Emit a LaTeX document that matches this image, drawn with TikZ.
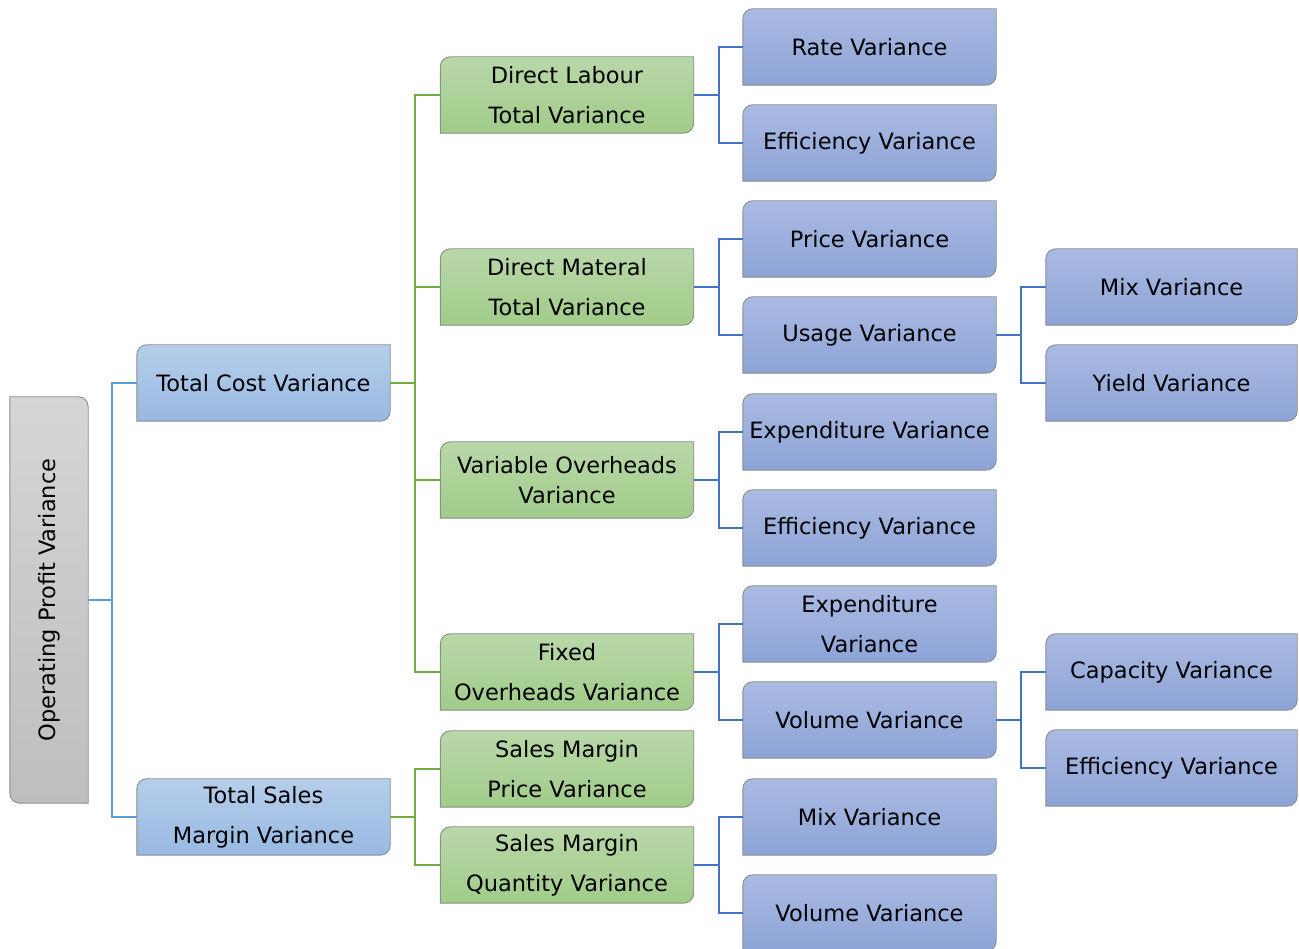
\documentclass[tikz,border=0pt]{standalone}
\usepackage{fontspec}
\setmainfont{DejaVu Sans}
\usetikzlibrary{backgrounds}

\definecolor{lineA}{HTML}{5B9BD5}
\definecolor{lineB}{HTML}{70AD47}
\definecolor{lineC}{HTML}{4472C4}
\definecolor{edge}{HTML}{8C8C8C}
\definecolor{blueT}{HTML}{B6CEEA}\definecolor{blueB}{HTML}{97B9E2}
\definecolor{greenT}{HTML}{B9D8A9}\definecolor{greenB}{HTML}{A0CC89}
\definecolor{violT}{HTML}{AABAE2}\definecolor{violB}{HTML}{8DA4D8}
\definecolor{grayT}{HTML}{D5D5D5}\definecolor{grayB}{HTML}{BEBEBE}

\tikzset{
  cell/.style={rectangle, inner sep=0pt, minimum width=253pt, minimum height=76pt,
    align=center, font=\fontsize{22.5}{40}\selectfont},
  conA/.style={draw=lineA, line width=2pt},
  conB/.style={draw=lineB, line width=2pt},
  conC/.style={draw=lineC, line width=2pt},
}

% background of a box: rounded top-left and bottom-right corners
\newcommand{\cellbg}[3]{%
  \draw[edge, line width=0.9pt, top color=#2, bottom color=#3]
    (#1.south west) -- ([yshift=-10pt]#1.north west)
    arc[start angle=180, end angle=90, radius=10pt] -- (#1.north east)
    -- ([yshift=10pt]#1.south east)
    arc[start angle=0, end angle=-90, radius=10pt] -- cycle;}

\begin{document}
\begin{tikzpicture}[x=1pt, y=1pt]
\useasboundingbox (0,0) rectangle (1299,949);

% root
\node[rectangle, inner sep=0pt, minimum width=78pt, minimum height=406pt,
      font=\fontsize{22.5}{27}\selectfont] (opv) at (49,349)
      {\rotatebox{90}{Operating Profit Variance}};

% level 1
\node[cell] (tc)  at (263.5,566) {Total Cost Variance};
\node[cell] (tsm) at (263.5,132) {Total Sales\\Margin Variance};

% level 2
\node[cell] (dl)  at (567,854) {Direct Labour\\Total Variance};
\node[cell] (dm)  at (567,662) {Direct Materal\\Total Variance};
\node[cell, font=\fontsize{22.5}{30}\selectfont] (vo) at (567,469) {Variable Overheads\\Variance};
\node[cell] (fo)  at (567,277) {Fixed\\Overheads Variance};
\node[cell] (smp) at (567,180) {Sales Margin\\Price Variance};
\node[cell] (smq) at (567,84)  {Sales Margin\\Quantity Variance};

% level 3
\node[cell] (rate)  at (869.5,902) {Rate Variance};
\node[cell] (effa)  at (869.5,806) {Efficiency Variance};
\node[cell] (price) at (869.5,710) {Price Variance};
\node[cell] (usage) at (869.5,614) {Usage Variance};
\node[cell] (expa)  at (869.5,517) {Expenditure Variance};
\node[cell] (effb)  at (869.5,421) {Efficiency Variance};
\node[cell] (expb)  at (869.5,325) {Expenditure\\Variance};
\node[cell] (vola)  at (869.5,229) {Volume Variance};
\node[cell] (mixa)  at (869.5,132) {Mix Variance};
\node[cell] (volb)  at (869.5,36)  {Volume Variance};

% level 4
\node[cell, minimum width=251pt] (mixb)  at (1171.5,662) {Mix Variance};
\node[cell, minimum width=251pt] (yield) at (1171.5,566) {Yield Variance};
\node[cell, minimum width=251pt] (cap)   at (1171.5,277) {Capacity Variance};
\node[cell, minimum width=251pt] (effc)  at (1171.5,181) {Efficiency Variance};

\begin{scope}[on background layer]
  % root box: rounded top-right and bottom-left corners
  \draw[edge, line width=0.9pt, top color=grayT, bottom color=grayB]
    (opv.north west) -- ([xshift=-10pt]opv.north east)
    arc[start angle=90, end angle=0, radius=10pt] -- (opv.south east)
    -- ([xshift=10pt]opv.south west)
    arc[start angle=270, end angle=180, radius=10pt] -- cycle;
  \foreach \n in {tc,tsm} {\cellbg{\n}{blueT}{blueB}}
  \foreach \n in {dl,dm,vo,fo,smp,smq} {\cellbg{\n}{greenT}{greenB}}
  \foreach \n in {rate,effa,price,usage,expa,effb,expb,vola,mixa,volb,mixb,yield,cap,effc}
    {\cellbg{\n}{violT}{violB}}

  % connectors
  \foreach \c in {tc,tsm} {\draw[conA] (opv.east) -- ++(24,0) |- (\c.west);}
  \foreach \c in {dl,dm,vo,fo} {\draw[conB] (tc.east) -- ++(25,0) |- (\c.west);}
  \foreach \c in {smp,smq} {\draw[conB] (tsm.east) -- ++(25,0) |- (\c.west);}
  \foreach \c in {rate,effa} {\draw[conC] (dl.east) -- ++(25,0) |- (\c.west);}
  \foreach \c in {price,usage} {\draw[conC] (dm.east) -- ++(25,0) |- (\c.west);}
  \foreach \c in {expa,effb} {\draw[conC] (vo.east) -- ++(25,0) |- (\c.west);}
  \foreach \c in {expb,vola} {\draw[conC] (fo.east) -- ++(25,0) |- (\c.west);}
  \foreach \c in {mixa,volb} {\draw[conC] (smq.east) -- ++(25,0) |- (\c.west);}
  \foreach \c in {mixb,yield} {\draw[conC] (usage.east) -- ++(25,0) |- (\c.west);}
  \foreach \c in {cap,effc} {\draw[conC] (vola.east) -- ++(25,0) |- (\c.west);}
\end{scope}
\end{tikzpicture}
\end{document}
